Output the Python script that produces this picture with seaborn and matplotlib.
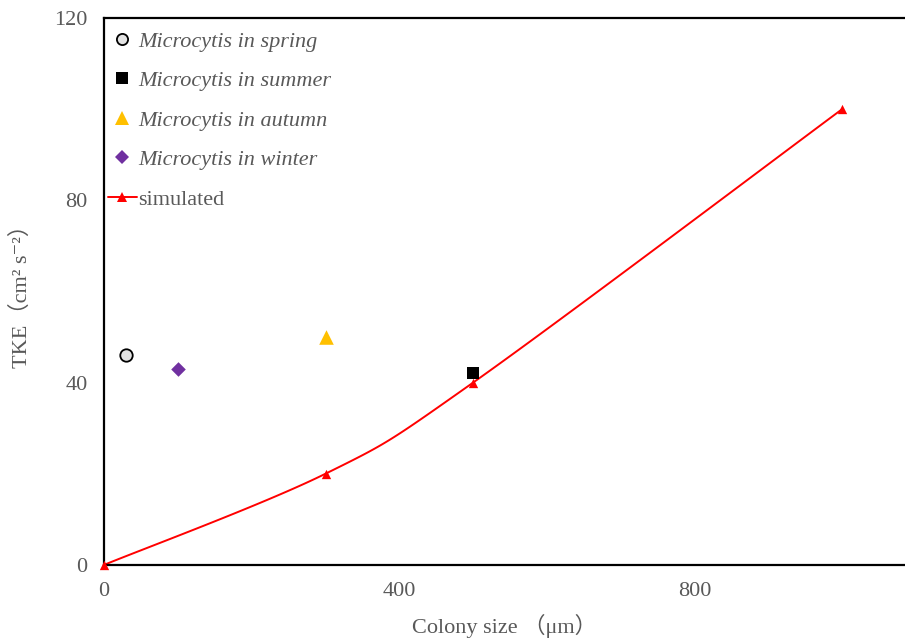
import numpy as np
import pandas as pd
import matplotlib
matplotlib.use("Agg")
import matplotlib.pyplot as plt
from matplotlib.lines import Line2D
import seaborn as sb

# observed points
season_names = ["Microcytis in spring", "Microcytis in summer", "Microcytis in autumn", "Microcytis in winter"]
season_size = [30, 500, 300, 100]
season_tke = [46, 42, 50, 43]

# simulated curve
sim_size = [0, 300, 500, 1000]
sim_tke = [0, 20, 40, 100]

x_ticks = [0, 400, 800]
y_ticks = [0, 40, 80, 120]


def smooth(xs, ys, sx, sy, n=40):
    # excel-like smoothed line (catmull-rom bezier), done in screen-ish units
    p = np.column_stack([np.array(xs) * sx, np.array(ys) * sy]).astype(float)
    out = []
    for i in range(len(p) - 1):
        p0 = p[i - 1] if i > 0 else p[i]
        p1, p2 = p[i], p[i + 1]
        p3 = p[i + 2] if i + 2 < len(p) else p[i + 1]
        c1 = p1 + (p2 - p0) / 6.0
        c2 = p2 - (p3 - p1) / 6.0
        t = np.linspace(0, 1, n)[:, None]
        seg = (1 - t) ** 3 * p1 + 3 * (1 - t) ** 2 * t * c1 + 3 * (1 - t) * t ** 2 * c2 + t ** 3 * p2
        out.append(seg if i == 0 else seg[1:])
    out = np.vstack(out)
    return out[:, 0] / sx, out[:, 1] / sy


def main():
    sb.set_style("white")
    plt.rcParams["font.family"] = ["Liberation Serif", "DejaVu Serif", "Noto Sans CJK SC"]
    grey = "#595959"
    fs = 16

    fig = plt.figure(figsize=(9.05, 6.39), dpi=100)
    ax = fig.add_axes([0.115, 0.116, 0.885, 0.856])

    xmax, ymax = 1085, 120
    cx, cy = smooth(sim_size, sim_tke, 801 / xmax, 547 / ymax)
    curve = pd.DataFrame({"x": cx, "y": cy})
    sb.lineplot(data=curve, x="x", y="y", ax=ax, color="#ff0000", lw=1.4, sort=False, estimator=None)
    sim_df = pd.DataFrame({"x": sim_size, "y": sim_tke})
    sb.scatterplot(data=sim_df, x="x", y="y", ax=ax, marker="^", s=45, color="#ff0000",
                   edgecolor="#ff0000", linewidth=0, zorder=4, clip_on=False)

    styles = [
        dict(marker="o", s=80, color="#e3e3e3", edgecolor="black", linewidth=1.3),
        dict(marker="s", s=85, color="black", edgecolor="black", linewidth=0),
        dict(marker="^", s=110, color="#ffc000", edgecolor="#ffc000", linewidth=0),
        dict(marker="D", s=55, color="#7030a0", edgecolor="#7030a0", linewidth=0),
    ]
    for name, xv, yv, st in zip(season_names, season_size, season_tke, styles):
        d = pd.DataFrame({"x": [xv], "y": [yv]})
        sb.scatterplot(data=d, x="x", y="y", ax=ax, zorder=5, **st)

    ax.set_xlim(0, xmax)
    ax.set_ylim(0, ymax)
    ax.set_xticks(x_ticks)
    ax.set_yticks(y_ticks)
    ax.tick_params(direction="in", length=5, width=1.2, colors="black", labelcolor=grey,
                   labelsize=fs)
    ax.tick_params(axis="x", pad=12)
    ax.tick_params(axis="y", pad=12)
    for s in ["left", "top", "bottom"]:
        ax.spines[s].set_linewidth(1.6)
        ax.spines[s].set_color("black")
    ax.spines["right"].set_visible(False)

    ax.set_xlabel("Colony size （μm）", fontsize=fs, color=grey, labelpad=10)
    ax.set_ylabel("TKE（cm² s⁻²）", fontsize=fs, color=grey, labelpad=16)

    handles = []
    for st in styles:
        handles.append(Line2D([], [], ls="none", marker=st["marker"], markersize=np.sqrt(st["s"]) * 0.9,
                              markerfacecolor=st["color"], markeredgecolor=st["edgecolor"],
                              markeredgewidth=st["linewidth"]))
    handles.append(Line2D([], [], color="#ff0000", lw=1.4, marker="^", markersize=7,
                          markeredgewidth=0, markerfacecolor="#ff0000"))
    leg = ax.legend(handles, season_names + ["simulated"], loc="upper left", frameon=False,
                    fontsize=fs, labelspacing=0.85, handlelength=1.3, handletextpad=0.05,
                    borderaxespad=0.2, bbox_to_anchor=(-0.012, 1.0))
    for i, t in enumerate(leg.get_texts()):
        t.set_color(grey)
        if i < 4:
            t.set_style("italic")

    plt.savefig("out.png", dpi=100)


if __name__ == "__main__":
    main()
